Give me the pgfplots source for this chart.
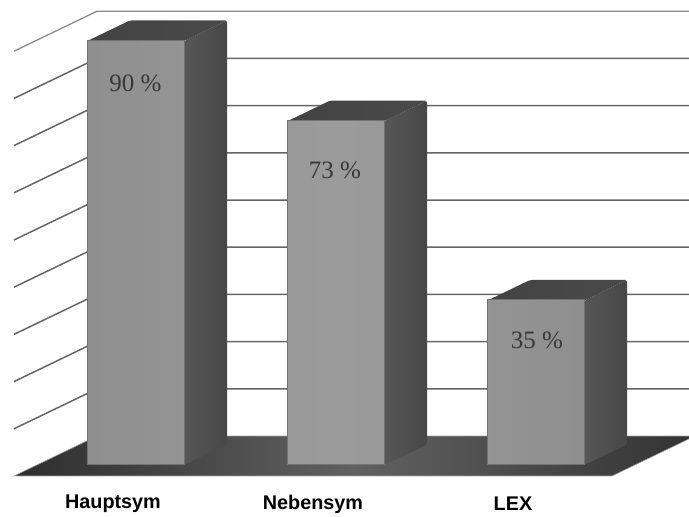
\documentclass[border=0pt]{standalone}
\usepackage{pgfplots}
\pgfplotsset{compat=1.18}
\usepackage{pgfplotstable}
\usepackage{fontspec}
\setmainfont{Liberation Sans}
\newfontfamily\valuefont{Liberation Serif}
\definecolor{gridgray}{HTML}{666666}
\definecolor{frontedge}{HTML}{727272}
\pgfplotstableread{
x share
0 90
1 73
2 35
}\sharetable
\begin{document}
\begin{tikzpicture}
\begin{axis}[
  scale only axis, width=689pt, height=514pt,
  xmin=-0.565, xmax=2.88, ymin=-10.38, ymax=98.52,
  axis line style={draw=none},
  tick style={draw=none},
  ytick=\empty,
  xtick={0,1,2},
  xticklabels={Hauptsym,Nebensym,LEX},
  x tick label style={anchor=center, yshift=10pt, font=\fontsize{19.8}{22}\selectfont\bfseries, text=black},
  unbounded coords=jump,
]
% gridlines: back wall and left wall
\addplot[gridgray, line width=1.5pt] coordinates {
 (-0.495,7.67) (-0.08,16.14) (2.91,16.14)
 (nan,nan)
 (-0.495,17.67) (-0.08,26.14) (2.91,26.14)
 (nan,nan)
 (-0.495,27.67) (-0.08,36.14) (2.91,36.14)
 (nan,nan)
 (-0.495,37.67) (-0.08,46.14) (2.91,46.14)
 (nan,nan)
 (-0.495,47.67) (-0.08,56.14) (2.91,56.14)
 (nan,nan)
 (-0.495,57.67) (-0.08,66.14) (2.91,66.14)
 (nan,nan)
 (-0.495,67.67) (-0.08,76.14) (2.91,76.14)
 (nan,nan)
 (-0.495,77.67) (-0.08,86.14) (2.91,86.14)
};
\addplot[color=gridgray!75, line width=1.3pt] coordinates {(-0.495,87.67) (-0.08,96.14) (2.91,96.14)};
% floor
\addplot[draw=gridgray!60, line width=0.6pt, left color=black!82, right color=black!80, middle color=black!62]
  coordinates {(-0.495,-2.33) (-0.08,6.14) (2.91,6.14) (2.495,-2.33)} -- cycle;
% first column: side and top faces
\addplot[draw=none, left color=black!66, right color=black!72, rounded corners=2pt]
  coordinates {(0.355,0) (0.57,4.3) (0.57,94.2) (0.355,89.8)} -- cycle;
\addplot[draw=none, left color=black!74, right color=black!71, rounded corners=2pt]
  coordinates {(-0.13,89.8) (0.085,94.2) (0.57,94.2) (0.355,89.8)} -- cycle;
% second column
\addplot[draw=none, left color=black!66, right color=black!72, rounded corners=2pt]
  coordinates {(1.355,0) (1.57,4.3) (1.57,77.2) (1.355,72.8)} -- cycle;
\addplot[draw=none, left color=black!74, right color=black!71, rounded corners=2pt]
  coordinates {(0.87,72.8) (1.085,77.2) (1.57,77.2) (1.355,72.8)} -- cycle;
% third column
\addplot[draw=none, left color=black!66, right color=black!72, rounded corners=2pt]
  coordinates {(2.355,0) (2.57,4.3) (2.57,39.2) (2.355,34.8)} -- cycle;
\addplot[draw=none, left color=black!74, right color=black!71, rounded corners=2pt]
  coordinates {(1.87,34.8) (2.085,39.2) (2.57,39.2) (2.355,34.8)} -- cycle;
% front faces
\addplot[ybar, bar width=0.485, bar shift=0.1125, draw=frontedge, line width=1pt,
  left color=black!44, right color=black!44, middle color=black!39]
  table[x=x, y=share] {\sharetable};
% value labels
\node[font=\valuefont\fontsize{25}{29}\selectfont, text=black!78] at (axis cs:0.1125,80.9) {90 \%};
\node[font=\valuefont\fontsize{25}{29}\selectfont, text=black!78] at (axis cs:1.11,62.5) {73 \%};
\node[font=\valuefont\fontsize{25}{29}\selectfont, text=black!78] at (axis cs:2.12,26.5) {35 \%};
\end{axis}
\end{tikzpicture}
\end{document}
